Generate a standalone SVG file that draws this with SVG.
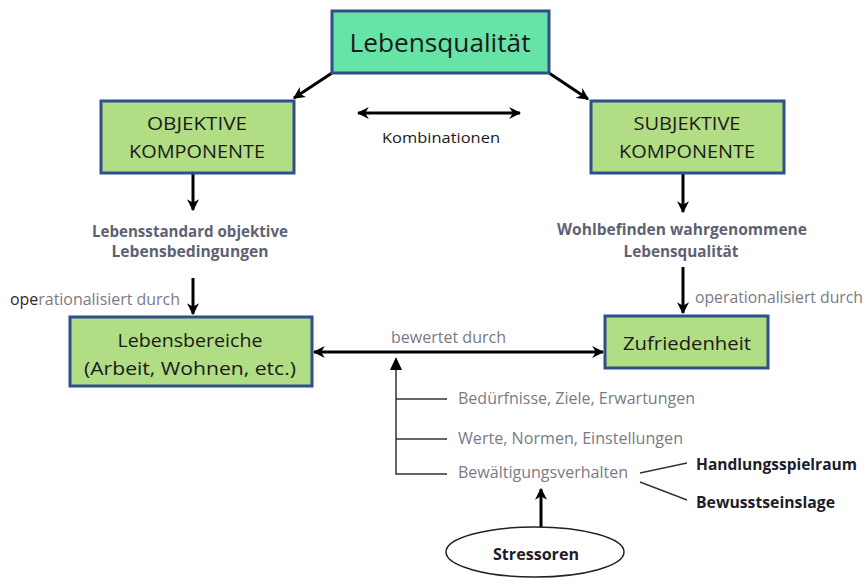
<svg xmlns="http://www.w3.org/2000/svg" width="867" height="583" viewBox="0 0 867 583">
<style>
.box{stroke:#2f4f8a;stroke-width:3}
.g{fill:#b1dd85}
.t{fill:#66e3a6}
.lbl{font-family:"Open Sans","Liberation Sans",sans-serif;fill:#1a1a1a;text-anchor:middle}
.grey{font-family:"Open Sans","Liberation Sans",sans-serif;fill:#7a7a84;font-size:16px}
.sub{font-family:"Open Sans","Liberation Sans",sans-serif;fill:#5d6272;font-size:15.5px;font-weight:bold;text-anchor:middle}
.bold{font-family:"Open Sans","Liberation Sans",sans-serif;fill:#1c1c2a;font-size:15.5px;font-weight:bold}
.ln{stroke:#000;stroke-width:3;fill:none}
.thin{stroke:#333;stroke-width:1.5;fill:none}
</style>
<defs>
<marker id="ah" viewBox="0 0 10 10" refX="9" refY="5" markerWidth="4" markerHeight="4" orient="auto-start-reverse" markerUnits="strokeWidth">
<path d="M0,0 L10,5 L0,10 L3,5 Z" fill="#000"/>
</marker>
</defs>
<g id="connectors">
<line class="ln" x1="332" y1="73" x2="294" y2="98" marker-end="url(#ah)"/>
<line class="ln" x1="549" y1="73" x2="588" y2="99" marker-end="url(#ah)"/>
<line class="ln" x1="358" y1="113" x2="520" y2="113" marker-start="url(#ah)" marker-end="url(#ah)"/>
<line class="ln" x1="193" y1="174" x2="193" y2="210" marker-end="url(#ah)"/>
<line class="ln" x1="193" y1="278" x2="193" y2="314" marker-end="url(#ah)"/>
<line class="ln" x1="683" y1="174" x2="683" y2="212" marker-end="url(#ah)"/>
<line class="ln" x1="683" y1="267" x2="683" y2="313" marker-end="url(#ah)"/>
<line class="ln" x1="314" y1="352" x2="603" y2="352" marker-start="url(#ah)" marker-end="url(#ah)"/>
<polyline class="thin" points="447,474 396,474 396,362"/>
<path d="M390,370 L396,357 L402,370 Z" fill="#000"/>
<line class="thin" x1="396" y1="399" x2="447" y2="399"/>
<line class="thin" x1="396" y1="439" x2="447" y2="439"/>
<line class="thin" x1="640" y1="473" x2="687" y2="463"/>
<line class="thin" x1="640" y1="482" x2="687" y2="500"/>
<line class="ln" x1="541" y1="527" x2="541" y2="489" marker-end="url(#ah)"/>
</g>
<g id="lebensqualitaet">
<rect class="box t" x="332" y="11" width="217" height="62"/>
<text class="lbl" x="440" y="52" font-size="26" textLength="181" lengthAdjust="spacingAndGlyphs">Lebensqualität</text>
</g>
<g id="objektive">
<rect class="box g" x="101" y="101" width="193" height="72"/>
<text class="lbl" x="197" y="130" font-size="18" textLength="100" lengthAdjust="spacingAndGlyphs">OBJEKTIVE</text>
<text class="lbl" x="197" y="158" font-size="18" textLength="136" lengthAdjust="spacingAndGlyphs">KOMPONENTE</text>
</g>
<g id="subjektive">
<rect class="box g" x="591" y="101" width="193" height="72"/>
<text class="lbl" x="687" y="130" font-size="18" textLength="107" lengthAdjust="spacingAndGlyphs">SUBJEKTIVE</text>
<text class="lbl" x="687" y="158" font-size="18" textLength="136" lengthAdjust="spacingAndGlyphs">KOMPONENTE</text>
</g>
<g id="lebensbereiche">
<rect class="box g" x="70" y="317" width="242" height="69"/>
<text class="lbl" x="190" y="347" font-size="19" textLength="145" lengthAdjust="spacingAndGlyphs">Lebensbereiche</text>
<text class="lbl" x="190" y="375" font-size="19" textLength="212" lengthAdjust="spacingAndGlyphs">(Arbeit, Wohnen, etc.)</text>
</g>
<g id="zufriedenheit">
<rect class="box g" x="605" y="316" width="163" height="52"/>
<text class="lbl" x="687" y="350" font-size="19" textLength="128" lengthAdjust="spacingAndGlyphs">Zufriedenheit</text>
</g>
<g id="labels">
<text class="lbl" x="441" y="143" font-size="15" fill="#333" textLength="118" lengthAdjust="spacingAndGlyphs">Kombinationen</text>
<text class="sub" x="190" y="237" textLength="196" lengthAdjust="spacingAndGlyphs">Lebensstandard objektive</text>
<text class="sub" x="190" y="257" textLength="157" lengthAdjust="spacingAndGlyphs">Lebensbedingungen</text>
<text class="sub" x="682" y="235" textLength="250" lengthAdjust="spacingAndGlyphs">Wohlbefinden wahrgenommene</text>
<text class="sub" x="681" y="257" textLength="115" lengthAdjust="spacingAndGlyphs">Lebensqualität</text>
<text class="grey" x="10" y="305" textLength="170" lengthAdjust="spacingAndGlyphs"><tspan fill="#2a2a2a">ope</tspan>rationalisiert durch</text>
<text class="grey" x="695" y="303" textLength="168" lengthAdjust="spacingAndGlyphs">operationalisiert durch</text>
<text class="grey" x="391" y="343" textLength="115" lengthAdjust="spacingAndGlyphs">bewertet durch</text>
<text class="grey" x="458" y="404" textLength="237" lengthAdjust="spacingAndGlyphs">Bedürfnisse, Ziele, Erwartungen</text>
<text class="grey" x="458" y="444" textLength="225" lengthAdjust="spacingAndGlyphs">Werte, Normen, Einstellungen</text>
<text class="grey" x="458" y="478" textLength="170" lengthAdjust="spacingAndGlyphs">Bewältigungsverhalten</text>
<text class="bold" x="696" y="470" textLength="161" lengthAdjust="spacingAndGlyphs">Handlungsspielraum</text>
<text class="bold" x="696" y="508" textLength="139" lengthAdjust="spacingAndGlyphs">Bewusstseinslage</text>
</g>
<g id="stressoren">
<ellipse cx="535" cy="552" rx="89" ry="25" fill="#fff" stroke="#222" stroke-width="1.5"/>
<text class="bold" x="536" y="560" text-anchor="middle" textLength="86" lengthAdjust="spacingAndGlyphs">Stressoren</text>
</g>
</svg>
